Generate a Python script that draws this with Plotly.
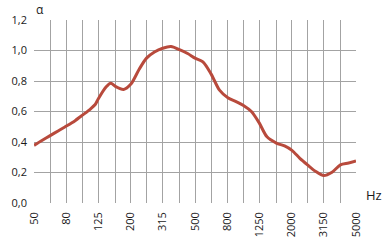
import plotly.graph_objects as go

# third-octave band centre frequencies (grid) and labelled ones
bands = [50, 63, 80, 100, 125, 160, 200, 250, 315, 400, 500, 630, 800, 1000,
         1250, 1600, 2000, 2500, 3150, 4000, 5000]
tick_labels = ["50", "80", "125", "200", "315", "500", "800", "1250", "2000", "3150", "5000"]
y_ticks = [0.0, 0.2, 0.4, 0.6, 0.8, 1.0, 1.2]

# curve readings (frequency in Hz, absorption coefficient alpha)
freq = [50, 56, 63, 71, 80, 90, 100, 112, 120, 125, 140, 150, 160, 180, 200, 225,
        250, 280, 315, 355, 400, 450, 500, 560, 630, 710, 800, 900, 1000, 1120,
        1250, 1400, 1600, 1800, 2000, 2240, 2500, 2800, 3150, 3550, 4000, 4500, 5000]
alpha = [0.378, 0.41, 0.442, 0.474, 0.506, 0.54, 0.576, 0.616, 0.646, 0.68, 0.76, 0.785, 0.765, 0.745, 0.78, 0.877,
         0.95, 0.99, 1.015, 1.026, 1.005, 0.98, 0.95, 0.925, 0.845, 0.74, 0.69, 0.665, 0.64, 0.60,
         0.527, 0.434, 0.393, 0.374, 0.345, 0.293, 0.25, 0.208, 0.18, 0.202, 0.25, 0.262, 0.276]

fig = go.Figure()
fig.add_trace(go.Scatter(
    x=freq, y=alpha, mode="lines",
    line=dict(color="#b84a3c", width=3, shape="spline", smoothing=0.8),
    hoverinfo="skip", cliponaxis=False,
))

font_family = "Open Sans, Noto Sans, sans-serif"
label_vals = [b for b in bands if str(b) in tick_labels]
text_color = "#1a1a1a"
grid_color = "#a3a3a3"

fig.update_layout(
    width=382, height=249,
    margin=dict(l=32, r=26, t=15, b=46),
    paper_bgcolor="white", plot_bgcolor="white",
    showlegend=False,
    separators=",.",
    font=dict(family=font_family, size=11, color=text_color),
    xaxis=dict(
        type="log",
        range=[1.69897, 3.69897],
        tickmode="array",
        tickvals=label_vals,
        ticktext=tick_labels,
        tickangle=-90,
        showgrid=False,
        zeroline=False,
        showline=False,
        ticks="",
        ticklabelstandoff=6,
        tickfont=dict(size=11, color=text_color),
        minor=dict(tickmode="array", tickvals=bands, showgrid=True,
                   gridcolor=grid_color, gridwidth=1, ticks=""),
    ),
    yaxis=dict(
        range=[0, 1.2],
        tickmode="array",
        tickvals=y_ticks,
        tickformat=".1f",
        showgrid=True,
        gridcolor=grid_color,
        gridwidth=1,
        zeroline=False,
        showline=False,
        ticks="",
        ticklabelstandoff=6,
        tickfont=dict(size=11, color=text_color),
    ),
    annotations=[
        dict(text="α", xref="paper", yref="paper", x=0.0, y=1.0,
             xanchor="left", yanchor="bottom", showarrow=False,
             font=dict(size=12, color=text_color, family=font_family)),
        dict(text="Hz", xref="paper", yref="paper", x=1.0, y=0.0,
             xanchor="left", yanchor="bottom", showarrow=False, xshift=8, yshift=-3,
             font=dict(size=13, color=text_color, family=font_family)),
    ],
)

fig.write_html("out.html")
